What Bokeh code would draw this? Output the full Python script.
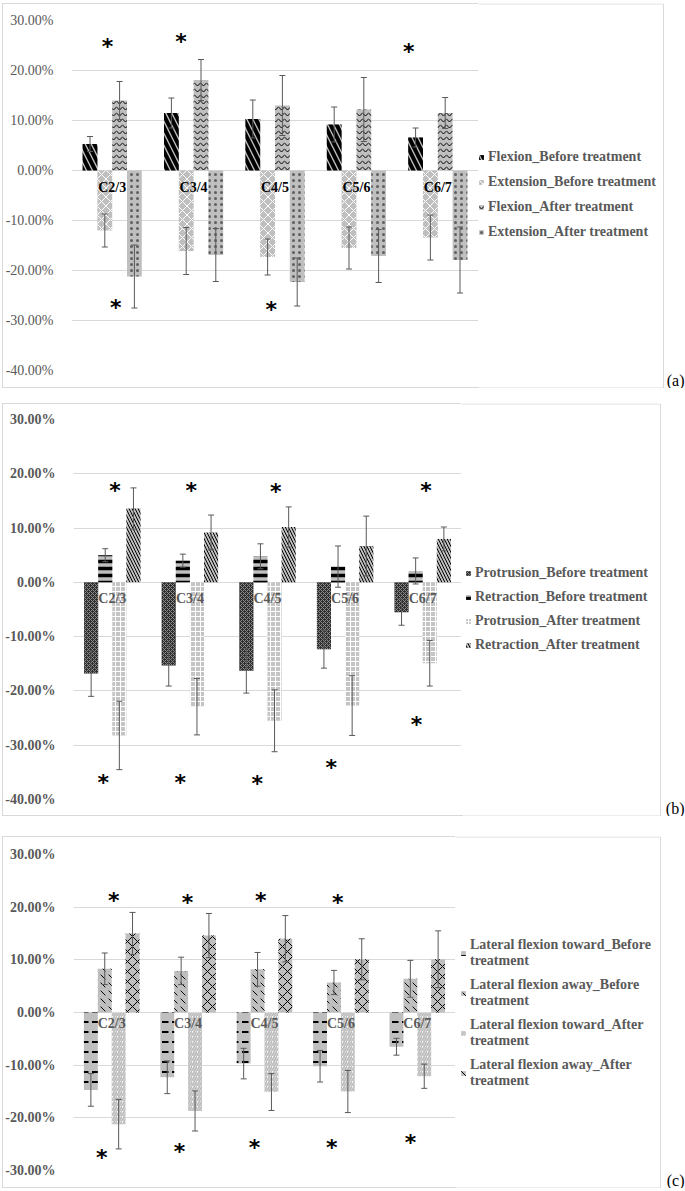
from bokeh.plotting import figure
from bokeh.models import (ColumnDataSource, FactorRange, Range1d, Whisker, TeeHead, Legend,
                          LegendItem, FixedTicker, PrintfTickFormatter, Spacer)
from bokeh.transform import dodge
from bokeh.layouts import column, row
from bokeh.core.properties import value
from bokeh.embed import file_html
from bokeh.resources import INLINE

# ---------------- data (percent) ----------------
cats = ["C2/3", "C3/4", "C4/5", "C5/6", "C6/7"]

# (a) flexion / extension
flex_before = [5.3, 11.5, 10.3, 9.2, 6.6]
flex_before_sd = [1.5, 3.0, 3.8, 3.5, 1.9]
ext_before = [-12.0, -16.1, -17.3, -15.5, -13.4]
ext_before_sd = [3.3, 4.7, 3.6, 4.2, 4.5]
flex_after = [14.0, 18.1, 13.0, 12.2, 11.5]
flex_after_sd = [3.8, 4.1, 6.0, 6.4, 3.1]
ext_after = [-21.2, -16.9, -22.3, -17.1, -17.9]
ext_after_sd = [6.3, 5.3, 4.8, 5.3, 6.6]

# (b) protrusion / retraction
prot_before = [-16.8, -15.3, -16.3, -12.3, -5.5]
prot_before_sd = [4.2, 3.8, 4.1, 3.5, 2.4]
retr_before = [5.0, 4.0, 4.8, 2.9, 2.1]
retr_before_sd = [1.2, 1.2, 2.3, 3.8, 2.4]
prot_after = [-28.2, -22.9, -25.5, -22.7, -14.9]
prot_after_sd = [6.3, 5.2, 5.7, 5.5, 4.2]
retr_after = [13.6, 9.2, 10.2, 6.7, 8.0]
retr_after_sd = [3.8, 3.2, 3.7, 5.5, 2.2]

# (c) lateral flexion
lft_before = [-14.7, -12.3, -9.7, -10.2, -6.5]
lft_before_sd = [3.1, 3.1, 2.9, 3.0, 1.6]
lfa_before = [8.3, 7.9, 8.2, 5.7, 6.4]
lfa_before_sd = [3.0, 2.6, 3.2, 2.3, 3.5]
lft_after = [-21.2, -18.7, -15.1, -15.0, -12.1]
lft_after_sd = [4.7, 3.8, 3.5, 4.0, 2.3]
lfa_after = [15.0, 14.6, 14.0, 10.1, 10.1]
lfa_after_sd = [4.0, 4.2, 4.4, 3.9, 5.4]

# significance markers: category, offset within category, y (percent)
a_star_cat = ["C2/3", "C3/4", "C6/7", "C2/3", "C4/5"]
a_star_off = [-0.057, -0.155, -0.357, 0.045, -0.045]
a_star_y = [25.5, 26.5, 24.5, -26.7, -27.2]

b_star_cat = ["C2/3", "C3/4", "C4/5", "C6/7", "C2/3", "C3/4", "C4/5", "C5/6", "C6/7"]
b_star_off = [0.034, 0.016, 0.105, 0.042, -0.117, -0.123, -0.133, -0.178, -0.081]
b_star_y = [17.4, 17.4, 17.2, 17.5, -36.3, -36.3, -36.5, -33.6, -25.7]

c_star_cat = ["C2/3", "C3/4", "C4/5", "C5/6", "C2/3", "C3/4", "C4/5", "C5/6", "C6/7"]
c_star_off = [0.028, -0.007, -0.05, -0.042, -0.131, -0.114, -0.132, -0.119, -0.09]
c_star_y = [21.8, 21.5, 21.8, 21.5, -26.9, -25.8, -25.1, -25.0, -24.1]

# ---------------- styling ----------------
SERIF = "Liberation Serif"
GRAY_TXT = "#595959"
GRID = "#d9d9d9"
FILL = "#bfbfbf"
ERR = "#595959"
W = 1 / 5.5
OFFS = [-1.5 * W, -0.5 * W, 0.5 * W, 1.5 * W]
LEFT = 65
PAGE_W = 685
SHADOW = "inset 1px 0 0 #d9d9d9, inset 0 1px 0 #d9d9d9, inset 0 -1px 0 #d9d9d9"


def build(series, height, top, fh, fw, ylo, yhi, bold_ticks, cat_color, cat_off,
          leg_xy, leg_h, leg_sp, stars, tag, box_right):
    bottom = height - top - fh
    main_w = LEFT + fw
    p = figure(x_range=FactorRange(*cats), y_range=Range1d(ylo, yhi),
               width=main_w, height=height, min_border_left=LEFT,
               min_border_right=0, min_border_top=top, min_border_bottom=bottom,
               x_axis_location=None, output_backend="svg", toolbar_location=None,
               frame_align=False, styles={"box-shadow": SHADOW})
    p.outline_line_color = None
    p.background_fill_color = "white"
    p.border_fill_alpha = 0
    p.xgrid.grid_line_color = None
    ax = p.yaxis[0]
    ax.ticker = FixedTicker(ticks=list(range(ylo, yhi + 1, 10)))
    ax.formatter = PrintfTickFormatter(format="%.2f%%")
    ax.axis_line_color = None
    ax.major_tick_line_color = None
    ax.minor_tick_line_color = None
    ax.major_label_standoff = 12
    ax.major_label_text_font = SERIF
    ax.major_label_text_font_size = "14px"
    ax.major_label_text_color = GRAY_TXT
    ax.major_label_text_font_style = "bold" if bold_ticks else "normal"
    p.ygrid.grid_line_color = GRID

    # legend / tag figure (frame = whole canvas, pixel coordinates)
    leg_w = PAGE_W - 2 - main_w
    q = figure(x_range=Range1d(0, leg_w), y_range=Range1d(0, height), width=leg_w,
               height=height, min_border=0, min_border_left=0, min_border_right=0,
               min_border_top=0, min_border_bottom=0, x_axis_location=None,
               y_axis_location=None, output_backend="svg", toolbar_location=None,
               frame_align=False)
    q.outline_line_color = None
    q.border_fill_alpha = 0
    q.background_fill_alpha = 0
    q.xgrid.grid_line_color = None
    q.ygrid.grid_line_color = None
    bx = box_right - main_w - 2
    q.line(x=[0, bx, bx, 0], y=[height - 0.5, height - 0.5, 0.5, 0.5],
           line_color=GRID, line_width=1)

    items = []
    for i, (name, means, sds, st) in enumerate(series):
        src = ColumnDataSource(dict(cat=cats, top=means,
                                    upper=[m + s for m, s in zip(means, sds)],
                                    lower=[m - s for m, s in zip(means, sds)]))
        p.vbar(x=dodge("cat", OFFS[i], range=p.x_range), top="top", bottom=0,
               width=W, source=src, line_color=None, **st)
        wk = Whisker(base=dodge("cat", OFFS[i], range=p.x_range), upper="upper",
                     lower="lower", source=src, line_color=ERR, line_width=1,
                     upper_head=TeeHead(size=6, line_color=ERR, line_width=1),
                     lower_head=TeeHead(size=6, line_color=ERR, line_width=1),
                     level="annotation")
        p.add_layout(wk)
        # legend swatch renderer (kept outside the visible range of the legend panel)
        swatch = q.vbar(x=[-50], top=[1], width=1, line_color=None, **st)
        items.append(LegendItem(label=name, renderers=[swatch]))

    lab = ColumnDataSource(dict(cat=cats, y=[0] * len(cats)))
    p.text(x="cat", y="y", text="cat", source=lab, text_align="center",
           text_baseline="top", y_offset=cat_off, text_font=value(SERIF),
           text_font_style="bold", text_font_size="14px", text_color=cat_color)

    scat, soff, sy = stars
    ssrc = ColumnDataSource(dict(x=[cats.index(c) + 0.5 + o for c, o in zip(scat, soff)],
                                 y=sy, t=["*"] * len(sy)))
    p.text(x="x", y="y", text="t", source=ssrc, text_align="center",
           text_baseline="middle", y_offset=3, text_font=value("DejaVu Sans"),
           text_font_style="bold", text_font_size="22px", text_color="black")

    leg = Legend(items=items, location=leg_xy, padding=0, margin=0,
                 border_line_color=None, background_fill_alpha=0,
                 glyph_width=6, glyph_height=6, label_standoff=4,
                 label_height=leg_h, spacing=leg_sp,
                 label_text_font=SERIF, label_text_font_style="bold",
                 label_text_font_size="14px", label_text_color=GRAY_TXT,
                 label_text_line_height=1.15)
    q.add_layout(leg)

    q.text(x=[leg_w - 1], y=[8], text=[tag], text_align="right", text_baseline="middle",
           text_font=value(SERIF), text_font_size="16px", text_color="black")
    return row(Spacer(width=2), p, q, spacing=0)


sa = [
    ("Flexion_Before treatment", flex_before, flex_before_sd,
     dict(fill_color=FILL, hatch_pattern="\\", hatch_color="black", hatch_weight=4, hatch_scale=12)),
    ("Extension_Before treatment", ext_before, ext_before_sd,
     dict(fill_color=FILL, hatch_pattern="x", hatch_color="white", hatch_weight=1, hatch_scale=9)),
    ("Flexion_After treatment", flex_after, flex_after_sd,
     dict(fill_color=FILL, hatch_pattern="v", hatch_color="black", hatch_weight=1, hatch_scale=6)),
    ("Extension_After treatment", ext_after, ext_after_sd,
     dict(fill_color=FILL, hatch_pattern=".", hatch_color="black", hatch_alpha=0.5,
          hatch_weight=1, hatch_scale=6)),
]
sb = [
    ("Protrusion_Before treatment", prot_before, prot_before_sd,
     dict(fill_color="#2e2e2e", hatch_pattern="x", hatch_color="#8a8a8a", hatch_weight=1, hatch_scale=4)),
    ("Retraction_Before treatment", retr_before, retr_before_sd,
     dict(fill_color=FILL, hatch_pattern="-", hatch_color="black", hatch_weight=3.5, hatch_scale=7)),
    ("Protrusion_After treatment", prot_after, prot_after_sd,
     dict(fill_color="#c4c4c4", hatch_pattern="+", hatch_color="white", hatch_weight=1, hatch_scale=5)),
    ("Retraction_After treatment", retr_after, retr_after_sd,
     dict(fill_color=FILL, hatch_pattern="\\", hatch_color="black", hatch_weight=1, hatch_scale=6)),
]
sc = [
    ("Lateral flexion toward_Before\ntreatment", lft_before, lft_before_sd,
     dict(fill_color=FILL, hatch_pattern='"', hatch_color="black", hatch_weight=2, hatch_scale=10)),
    ("Lateral flexion away_Before\ntreatment", lfa_before, lfa_before_sd,
     dict(fill_color=FILL, hatch_pattern="`", hatch_color="black", hatch_weight=1, hatch_scale=8)),
    ("Lateral flexion toward_After\ntreatment", lft_after, lft_after_sd,
     dict(fill_color="white", hatch_pattern="/", hatch_color=FILL, hatch_weight=2, hatch_scale=5)),
    ("Lateral flexion away_After\ntreatment", lfa_after, lfa_after_sd,
     dict(fill_color=FILL, hatch_pattern="x", hatch_color="black", hatch_weight=1, hatch_scale=10)),
]

ra = build(sa, 385, 17, 350, 411, -40, 30, False, "black", 9,
           (0, 146), 20, 5, (a_star_cat, a_star_off, a_star_y), "(a)", 663)
rb = build(sb, 413, 16, 380, 394, -40, 30, True, GRAY_TXT, 9,
           (4, 162), 19, 5, (b_star_cat, b_star_off, b_star_y), "(b)", 660)
rc = build(sc, 352, 18, 316, 388, -30, 30, True, GRAY_TXT, 3,
           (5, 99), 32, 8, (c_star_cat, c_star_off, c_star_y), "(c)", 660)

lay = column(Spacer(height=3), ra, Spacer(height=15), rb, Spacer(height=20), rc, spacing=0)
open("out.html", "w").write(file_html(lay, INLINE))
